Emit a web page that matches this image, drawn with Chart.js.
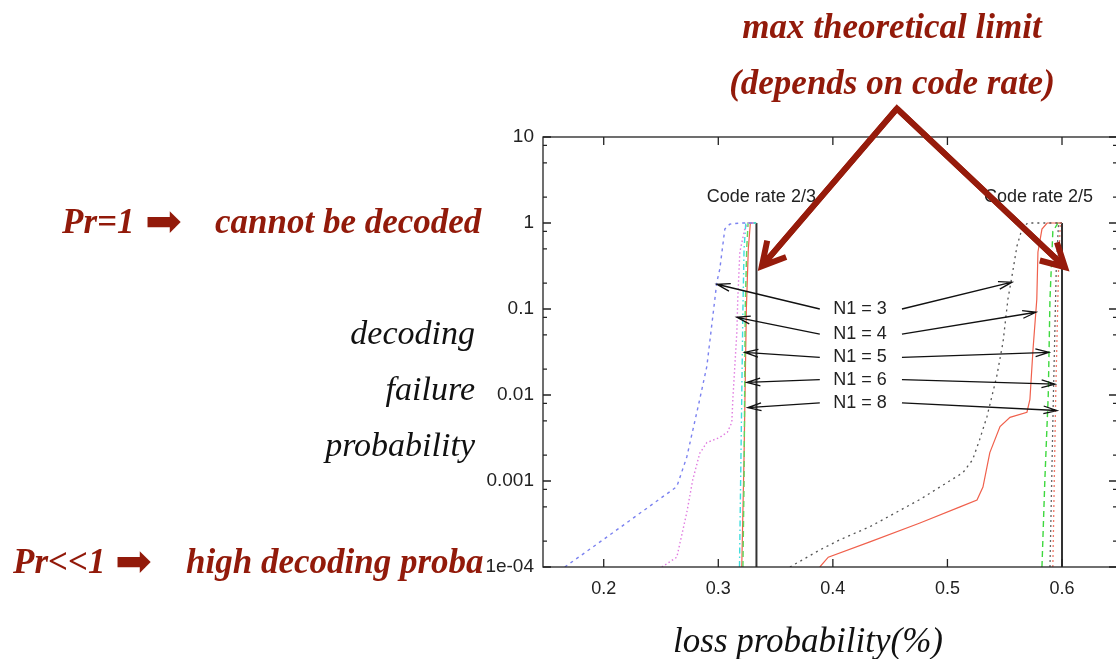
<!DOCTYPE html>
<html>
<head>
<meta charset="utf-8">
<script src="https://cdn.jsdelivr.net/npm/chart.js@4.4.0/dist/chart.umd.min.js"></script>
<style>
  html, body { margin: 0; padding: 0; background: #fff; overflow: hidden; }
  #wrap { position: relative; width: 1116px; height: 659px; overflow: hidden; }
  #chart { position: absolute; left: 0; top: 0; }
  .lbl { position: absolute; font-family: 'Liberation Serif', 'Times New Roman', serif; font-size: 34px; line-height: 1; white-space: nowrap; }
  .red { color: #921a0a; font-weight: bold; font-style: italic; font-size: 35px; }
  .blk { color: #111; font-style: italic; }
  .arr { font-family: 'DejaVu Sans', sans-serif; font-style: normal; font-weight: normal; font-size: 44px; }
</style>
</head>
<body>
<div id="wrap">
  <canvas id="chart" width="1120" height="659"></canvas>

  <div class="lbl red" style="left:592px;top:9px;width:600px;text-align:center">max theoretical limit</div>
  <div class="lbl red" style="left:592px;top:65px;width:600px;text-align:center">(depends on code rate)</div>

  <div class="lbl red" style="left:62px;top:204px">Pr=1</div>
  <div class="lbl red arr" style="left:145px;top:199px">&#x27A1;</div>
  <div class="lbl red" style="left:215px;top:204px">cannot be decoded</div>

  <div class="lbl red" style="left:13px;top:544px">Pr&lt;&lt;1</div>
  <div class="lbl red arr" style="left:115px;top:539px">&#x27A1;</div>
  <div class="lbl red" style="left:186px;top:544px">high decoding proba</div>

  <div class="lbl blk" style="left:0;width:475px;text-align:right;top:316px">decoding</div>
  <div class="lbl blk" style="left:0;width:475px;text-align:right;top:372px">failure</div>
  <div class="lbl blk" style="left:0;width:475px;text-align:right;top:428px">probability</div>

  <div class="lbl blk" style="left:508px;width:600px;text-align:center;top:623px;font-size:35px">loss probability(%)</div>
</div>

<script>
// axes
const X_MIN = 0.147;
const X_MAX = 0.648;
const xTicks = [0.2, 0.3, 0.4, 0.5, 0.6];
const yTicks = [1e-4, 1e-3, 1e-2, 1e-1, 1, 10];
const yTickLabels = ['1e-04', '0.001', '0.01', '0.1', '1', '10'];
const yMinorSteps = [2, 5, 8];

// code rate 2/3 curves (loss probability, decoding failure probability)
const r23n3X = [0.166, 0.200, 0.2638, 0.2725, 0.2838, 0.290, 0.297, 0.2987, 0.3013, 0.3057, 0.310, 0.3188, 0.333];
const r23n3Y = [1e-4, 2.1e-4, 8.6e-4, 1.9e-3, 8.9e-3, 0.0215, 0.13, 0.205, 0.29, 0.85, 0.97, 1, 1];
const r23n4X = [0.2507, 0.2638, 0.2725, 0.2777, 0.2838, 0.290, 0.301, 0.308, 0.3118, 0.3127, 0.3162, 0.317, 0.3188, 0.3231, 0.326, 0.333];
const r23n4Y = [1e-4, 1.3e-4, 4.3e-4, 1.03e-3, 2.1e-3, 2.8e-3, 3.2e-3, 3.7e-3, 4.8e-3, 8.9e-3, 0.054, 0.13, 0.46, 0.85, 1, 1];
const r23n5X = [0.3185, 0.3195, 0.3205, 0.3215, 0.3225, 0.324, 0.333];
const r23n5Y = [1e-4, 0.001, 0.01, 0.1, 0.5, 1, 1];
const r23n6X = [0.3215, 0.3225, 0.3235, 0.3248, 0.326, 0.333];
const r23n6Y = [1e-4, 0.001, 0.1, 0.5, 1, 1];
const r23n8X = [0.3205, 0.3225, 0.3245, 0.3262, 0.328, 0.333];
const r23n8Y = [1e-4, 0.002, 0.1, 0.5, 1, 1];
const r23LimitX = [0.3333, 0.3333];
const r23LimitY = [1e-4, 1];

// code rate 2/5 curves
const r25n3X = [0.3625, 0.3887, 0.406, 0.4323, 0.476, 0.5135, 0.522, 0.528, 0.5345, 0.543, 0.5485, 0.5528, 0.5563, 0.5607, 0.565, 0.570, 0.600];
const r25n3Y = [1e-4, 1.58e-4, 2.07e-4, 2.94e-4, 6.1e-4, 1.25e-3, 1.77e-3, 3.0e-3, 5.6e-3, 0.0164, 0.041, 0.13, 0.24, 0.54, 0.85, 1, 1];
const r25n4X = [0.3886, 0.396, 0.4323, 0.476, 0.511, 0.5258, 0.531, 0.537, 0.5459, 0.5546, 0.5694, 0.572, 0.5747, 0.578, 0.579, 0.5825, 0.587, 0.600];
const r25n4Y = [1e-4, 1.3e-4, 1.96e-4, 3.25e-4, 5.0e-4, 6.0e-4, 8.5e-4, 2.14e-3, 4.3e-3, 5.5e-3, 6.3e-3, 8.9e-3, 0.034, 0.13, 0.46, 0.85, 1, 1];
const r25n5X = [0.5825, 0.585, 0.588, 0.5895, 0.592, 0.5965, 0.600];
const r25n5Y = [1e-4, 0.001, 0.01, 0.13, 0.8, 1, 1];
const r25n6X = [0.5895, 0.5925, 0.595, 0.597, 0.600];
const r25n6Y = [1e-4, 0.01, 0.3, 1, 1];
const r25n8X = [0.592, 0.5945, 0.597, 0.5985, 0.600];
const r25n8Y = [1e-4, 0.01, 0.3, 1, 1];
const r25LimitX = [0.6, 0.6];
const r25LimitY = [1e-4, 1];

// annotations (data coordinates)
const codeRateLabels = ['Code rate 2/3', 'Code rate 2/5'];
const codeRateX = [0.3376, 0.5795];
const codeRateY = [2.0, 2.0];

const n1Labels = ['N1 = 3', 'N1 = 4', 'N1 = 5', 'N1 = 6', 'N1 = 8'];
const n1LabelX = 0.4237;
const n1LabelY = [0.1, 0.051, 0.0274, 0.0151, 0.0081];
const n1TailLeftX = 0.3886;
const n1TailRightX = 0.4603;
const n1TipLeftX = [0.2987, 0.3162, 0.3231, 0.3249, 0.3258];
const n1TipLeftY = [0.194, 0.080, 0.0313, 0.014, 0.00715];
const n1TipRightX = [0.5563, 0.5773, 0.5886, 0.5939, 0.5956];
const n1TipRightY = [0.205, 0.0917, 0.0313, 0.0134, 0.0066];

const limitApex = { x: 0.4559, y: 21.4 };
const limitTipsX = [0.338, 0.6026];
const limitTipsY = [0.315, 0.307];

function points(xs, ys) {
    return xs.map((x, i) => ({ x: x, y: ys[i] }));
}

function series(label, xs, ys, color, dash, width) {
    return {
        label: label,
        data: points(xs, ys),
        borderColor: color,
        borderDash: dash,
        borderWidth: width || 1.2,
        pointRadius: 0,
        fill: false,
        tension: 0
    };
}

function drawArrow(ctx, x1, y1, x2, y2, head, angle) {
    const a = Math.atan2(y2 - y1, x2 - x1);
    ctx.beginPath();
    ctx.moveTo(x1, y1);
    ctx.lineTo(x2, y2);
    ctx.moveTo(x2 - head * Math.cos(a - angle), y2 - head * Math.sin(a - angle));
    ctx.lineTo(x2, y2);
    ctx.lineTo(x2 - head * Math.cos(a + angle), y2 - head * Math.sin(a + angle));
    ctx.stroke();
}

// frame, inward ticks, in-plot labels and arrows
const framePlugin = {
    id: 'frame',
    afterDraw(chart) {
        const { ctx, chartArea: area } = chart;
        const xs = chart.scales.x;
        const ys = chart.scales.y;
        ctx.save();

        // plot box
        ctx.strokeStyle = '#222';
        ctx.lineWidth = 1.3;
        ctx.strokeRect(area.left, area.top, area.right - area.left, area.bottom - area.top);

        // ticks pointing inward
        ctx.beginPath();
        xTicks.forEach(v => {
            const px = xs.getPixelForValue(v);
            ctx.moveTo(px, area.bottom); ctx.lineTo(px, area.bottom - 8);
            ctx.moveTo(px, area.top); ctx.lineTo(px, area.top + 8);
        });
        yTicks.forEach(v => {
            const py = ys.getPixelForValue(v);
            ctx.moveTo(area.left, py); ctx.lineTo(area.left + 8, py);
            ctx.moveTo(area.right, py); ctx.lineTo(area.right - 8, py);
            if (v < 10) {
                yMinorSteps.forEach(m => {
                    const pm = ys.getPixelForValue(v * m);
                    ctx.moveTo(area.left, pm); ctx.lineTo(area.left + 4, pm);
                    ctx.moveTo(area.right, pm); ctx.lineTo(area.right - 4, pm);
                });
            }
        });
        ctx.stroke();

        // code rate labels
        ctx.fillStyle = '#222';
        ctx.font = '18px "Liberation Sans", Arial, sans-serif';
        ctx.textAlign = 'center';
        ctx.textBaseline = 'middle';
        codeRateLabels.forEach((t, i) => {
            ctx.fillText(t, xs.getPixelForValue(codeRateX[i]), ys.getPixelForValue(codeRateY[i]));
        });

        // N1 labels with arrows to both groups of curves
        ctx.strokeStyle = '#111';
        ctx.lineWidth = 1.3;
        n1Labels.forEach((t, i) => {
            const py = ys.getPixelForValue(n1LabelY[i]);
            ctx.fillText(t, xs.getPixelForValue(n1LabelX), py);
            drawArrow(ctx, xs.getPixelForValue(n1TailLeftX), py,
                xs.getPixelForValue(n1TipLeftX[i]), ys.getPixelForValue(n1TipLeftY[i]), 14, 0.28);
            drawArrow(ctx, xs.getPixelForValue(n1TailRightX), py,
                xs.getPixelForValue(n1TipRightX[i]), ys.getPixelForValue(n1TipRightY[i]), 14, 0.28);
        });

        // big arrows to the theoretical limits
        ctx.strokeStyle = '#961b0b';
        ctx.lineWidth = 6;
        ctx.lineJoin = 'miter';
        const ax = xs.getPixelForValue(limitApex.x);
        const ay = ys.getPixelForValue(limitApex.y);
        const t0x = xs.getPixelForValue(limitTipsX[0]), t0y = ys.getPixelForValue(limitTipsY[0]);
        const t1x = xs.getPixelForValue(limitTipsX[1]), t1y = ys.getPixelForValue(limitTipsY[1]);
        ctx.beginPath();
        ctx.moveTo(t0x, t0y);
        ctx.lineTo(ax, ay);
        ctx.lineTo(t1x, t1y);
        ctx.stroke();
        drawArrow(ctx, ax, ay, t0x, t0y, 26, 0.5);
        drawArrow(ctx, ax, ay, t1x, t1y, 26, 0.5);

        ctx.restore();
    }
};

const ctx = document.getElementById('chart').getContext('2d');

new Chart(ctx, {
    type: 'line',
    data: {
        datasets: [
            series('2/3 N1=3', r23n3X, r23n3Y, '#7b82f0', [3, 4], 1.4),
            series('2/3 N1=4', r23n4X, r23n4Y, '#e07ce0', [1.5, 2.5], 1.4),
            series('2/3 N1=5', r23n5X, r23n5Y, '#3fdede', [6, 3, 1.5, 3], 1.4),
            series('2/3 N1=6', r23n6X, r23n6Y, '#5ed85e', [6, 4], 1.4),
            series('2/3 N1=8', r23n8X, r23n8Y, '#f0604c', [], 1.2),
            series('2/3 limit', r23LimitX, r23LimitY, '#333', [], 2),
            series('2/5 N1=3', r25n3X, r25n3Y, '#555', [2, 4], 1.3),
            series('2/5 N1=4', r25n4X, r25n4Y, '#f0604c', [], 1.2),
            series('2/5 N1=5', r25n5X, r25n5Y, '#3fd83f', [6, 4], 1.4),
            series('2/5 N1=6', r25n6X, r25n6Y, '#666', [2, 3], 1.3),
            series('2/5 N1=8', r25n8X, r25n8Y, '#f07a6a', [2, 3], 1.3),
            series('2/5 limit', r25LimitX, r25LimitY, '#333', [], 2)
        ]
    },
    options: {
        responsive: false,
        animation: false,
        layout: {
            padding: { top: 137, right: 3, bottom: 0, left: 0 }
        },
        plugins: {
            legend: { display: false },
            tooltip: { enabled: false }
        },
        scales: {
            x: {
                type: 'linear',
                min: X_MIN,
                max: X_MAX,
                afterBuildTicks: s => { s.ticks = xTicks.map(v => ({ value: v })); },
                afterFit: s => { s.height = 92; },
                grid: { display: false, drawTicks: false },
                border: { display: false },
                ticks: {
                    padding: 11,
                    autoSkip: false,
                    maxRotation: 0,
                    color: '#222',
                    font: { family: '"Liberation Sans", Arial, sans-serif', size: 18 },
                    callback: v => v.toFixed(1)
                }
            },
            y: {
                type: 'logarithmic',
                min: 1e-4,
                max: 10,
                afterBuildTicks: s => { s.ticks = yTicks.map(v => ({ value: v })); },
                afterFit: s => { s.width = 543; },
                grid: { display: false, drawTicks: false },
                border: { display: false },
                ticks: {
                    padding: 9,
                    autoSkip: false,
                    color: '#222',
                    font: { family: '"Liberation Sans", Arial, sans-serif', size: 19 },
                    callback: v => yTickLabels[yTicks.indexOf(v)]
                }
            }
        }
    },
    plugins: [framePlugin]
});
</script>
</body>
</html>
